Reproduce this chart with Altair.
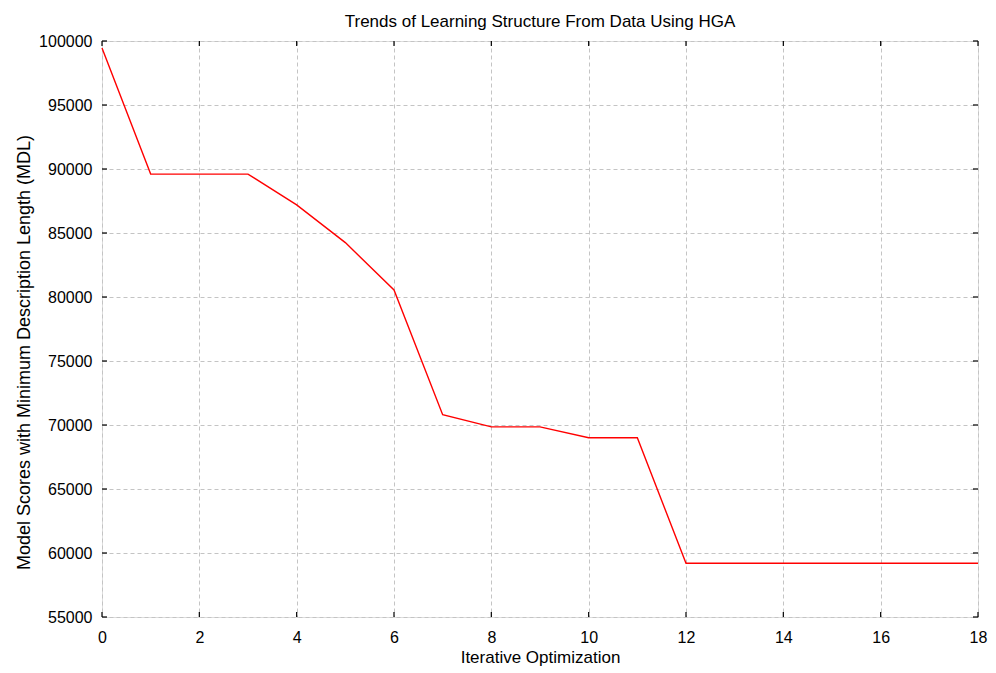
import altair as alt
import pandas as pd

iterations = [0, 1, 2, 3, 4, 5, 6, 7, 8, 9, 10, 11, 12, 13, 14, 15, 16, 17, 18]
mdl_scores = [99450, 89600, 89600, 89600, 87200, 84250, 80550, 70800, 69850, 69850,
              69000, 69000, 59200, 59200, 59200, 59200, 59200, 59200, 59200]
x_ticks = [0, 2, 4, 6, 8, 10, 12, 14, 16, 18]
y_ticks = [55000, 60000, 65000, 70000, 75000, 80000, 85000, 90000, 95000, 100000]

W, H = 876, 576
FONT = "Liberation Sans"

df = pd.DataFrame({"it": iterations, "mdl": mdl_scores})
xt = pd.DataFrame({"t": x_ticks})
yt = pd.DataFrame({"t": y_ticks})

xscale = alt.Scale(domain=[0, 18], nice=False, zero=False)
yscale = alt.Scale(domain=[55000, 100000], nice=False, zero=False)

xaxis = alt.Axis(values=x_ticks, title="Iterative Optimization", grid=True,
                 gridDash=[4, 3], gridColor="#c4c4c4", gridWidth=1,
                 ticks=False, domain=False, labelFont=FONT, labelFontSize=16,
                 labelColor="#000", labelPadding=12, labelFlush=False,
                 titleFont=FONT, titleFontSize=17, titleFontWeight="normal",
                 titleColor="#000", titleY=32, titleBaseline="top")
yaxis = alt.Axis(values=y_ticks, title="Model Scores with Minimum Description Length (MDL)",
                 grid=True, gridDash=[4, 3], gridColor="#c4c4c4", gridWidth=1,
                 ticks=False, domain=False, labelFont=FONT, labelFontSize=16,
                 labelColor="#000", labelPadding=10, labelFlush=False, format="d",
                 titleFont=FONT, titleFontSize=18, titleFontWeight="normal",
                 titleColor="#000", titleX=-69, titleY=311)

line = alt.Chart(df).mark_line(color="#ff0000", strokeWidth=1.4).encode(
    x=alt.X("it:Q", scale=xscale, axis=xaxis),
    y=alt.Y("mdl:Q", scale=yscale, axis=yaxis),
)

tick_len = 5
bottom_ticks = alt.Chart(xt).mark_rule(color="#000", strokeWidth=1.2).encode(
    x=alt.X("t:Q", scale=xscale), y=alt.value(H), y2=alt.value(H - tick_len))
top_ticks = alt.Chart(xt).mark_rule(color="#000", strokeWidth=1.2).encode(
    x=alt.X("t:Q", scale=xscale), y=alt.value(0), y2=alt.value(tick_len))
left_ticks = alt.Chart(yt).mark_rule(color="#000", strokeWidth=1.2).encode(
    y=alt.Y("t:Q", scale=yscale), x=alt.value(0), x2=alt.value(tick_len))
right_ticks = alt.Chart(yt).mark_rule(color="#000", strokeWidth=1.2).encode(
    y=alt.Y("t:Q", scale=yscale), x=alt.value(W), x2=alt.value(W - tick_len))

chart = alt.layer(line, bottom_ticks, top_ticks, left_ticks, right_ticks).properties(
    width=W, height=H,
    title=alt.TitleParams("Trends of Learning Structure From Data Using HGA",
                          font=FONT, fontSize=17, fontWeight="normal",
                          color="#000", offset=2, anchor="middle"),
    autosize=alt.AutoSizeParams(type="none"),
    padding={"left": 94, "top": 33, "right": 10, "bottom": 56},
).configure_view(stroke="#000", strokeWidth=1.5).configure(background="white")

chart.save("out.html", embed_options={"renderer": "svg", "actions": False})
